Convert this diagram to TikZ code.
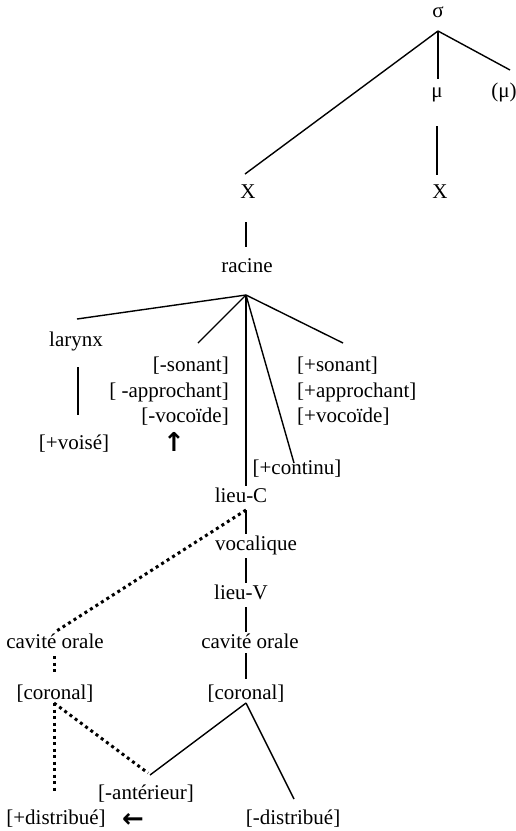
\documentclass[tikz,border=0pt]{standalone}
\usepackage{fontspec}
\setmainfont{Liberation Serif}
\newfontfamily\arrowfont{DejaVu Sans}

\begin{document}
\begin{tikzpicture}[
  x=1pt, y=-1pt,
  font=\fontsize{21}{25.5}\selectfont,
  lbl/.style={anchor=base, inner sep=0pt, outer sep=2pt,
              text height=14pt, text depth=6pt},
  blk/.style={inner sep=0pt},
  pointer/.style={inner sep=0pt, font=\fontsize{26}{26}\arrowfont\bfseries},
  link/.style={line width=1.4pt},
  dotlink/.style={line width=3pt, dash pattern=on 3pt off 3.5pt},
]

% --- fixed bounding box (white background) ---
\fill[white] (0,0) rectangle (516,831);
\useasboundingbox (0,0) rectangle (516,831);

% ============================ NODES =================================
% syllable level
\node[lbl] (sigma) at (438,17)  {σ};
\node[lbl] (mu)    at (437,97)  {μ};
\node[lbl] (muopt) at (504,97)  {(μ)};
\node[lbl] (xl)    at (248,198) {X};
\node[lbl] (xr)    at (440,198) {X};

% root and its dependents
\node[lbl] (racine) at (247,272) {racine};
\node[lbl] (larynx) at (76,346)  {larynx};
\node[lbl] (voise)  at (74,449)  {[+voisé]};
\node[blk, align=right, anchor=north east] (sonm) at (229,357)
  {{[-sonant]}\\{[ -approchant]}\\{[-vocoïde]}};
\node[blk, align=left, anchor=north west] (sonp) at (297,357)
  {{[+sonant]}\\{[+approchant]}\\{[+vocoïde]}};
\node[lbl] (cont) at (297,474) {[+continu]};
\node[pointer] (upmark) at (174,442) {↑};

% place column
\node[lbl] (lieuC) at (241,502) {lieu-C};
\node[lbl] (vocal) at (256,550) {vocalique};
\node[lbl] (lieuV) at (241,599) {lieu-V};
\node[lbl] (cavr)  at (250,648) {cavité orale};
\node[lbl] (corr)  at (246,699) {[coronal]};
\node[lbl] (cavl)  at (55,648)  {cavité orale};
\node[lbl] (corl)  at (55,699)  {[coronal]};
\node[lbl] (ant)   at (146,799) {[-antérieur]};
\node[lbl] (distp) at (56,824)  {[+distribué]};
\node[lbl] (distm) at (293,824) {[-distribué]};
\node[pointer, anchor=base, text height=10pt, text depth=0pt] (leftmark)
  at (133,827.5) {←};

% branching points
\coordinate (sroot) at ([yshift=-6pt]sigma.south);
\coordinate (rroot) at ([xshift=-1pt,yshift=-15pt]racine.south);
\coordinate (cr)    at ([yshift=4pt]corr.south);
\coordinate (cl)    at ([xshift=-1pt,yshift=4pt]corl.south);

% ============================ EDGES =================================
% sigma / moras
\draw[link] (sroot) -- ([xshift=-3pt,yshift=8pt]xl.north);
\draw[link] (sroot) -- ([xshift=1pt,yshift=2pt]mu.north);
\draw[link] (sroot) -- ([xshift=6pt,yshift=11pt]muopt.north);
\draw[link] ([yshift=-21pt]mu.south) -- ([xshift=-3pt,yshift=7pt]xr.north);
\draw[link] ([xshift=-2pt,yshift=-16pt]xl.south) -- ([xshift=-1pt,yshift=9pt]racine.north);

% root
\draw[link] (rroot) -- ([xshift=1pt,yshift=11pt]larynx.north);
\draw[link] (rroot) -- ([xshift=-31pt,yshift=14pt]sonm.north east);
\draw[link] (rroot) -- (rroot |- lieuC.north);
\draw[link] (rroot) -- ([xshift=-3pt,yshift=-5pt]cont.north);
\draw[link] (rroot) -- ([xshift=46pt,yshift=14pt]sonp.north west);
\draw[link] ([xshift=2pt,yshift=-13pt]larynx.south) -- ([xshift=4pt,yshift=18pt]voise.north);

% place column
\draw[link] (lieuC.south -| rroot) -- (vocal.north -| rroot);
\draw[link] (vocal.south -| rroot) -- (lieuV.north -| rroot);
\draw[link] (lieuV.south -| rroot) -- (cavr.north -| rroot);
\draw[link] ([yshift=3pt]cavr.south -| rroot) -- ([yshift=4pt]corr.north);
\draw[link] (cr) -- ([xshift=4pt,yshift=8pt]ant.north);
\draw[link] (cr) -- ([xshift=1pt,yshift=9pt]distm.north);

% dotted spreading
\draw[dotlink] (lieuC.south -| rroot) -- (cavl.north);
\draw[dotlink] ([xshift=-1pt]cavl.south) -- ([xshift=-1pt,yshift=9pt]corl.north);
\draw[dotlink] (cl) -- ([xshift=-2pt,yshift=14pt]distp.north);
\draw[dotlink] (cl) -- ([xshift=2pt,yshift=10pt]ant.north);

\end{tikzpicture}
\end{document}
